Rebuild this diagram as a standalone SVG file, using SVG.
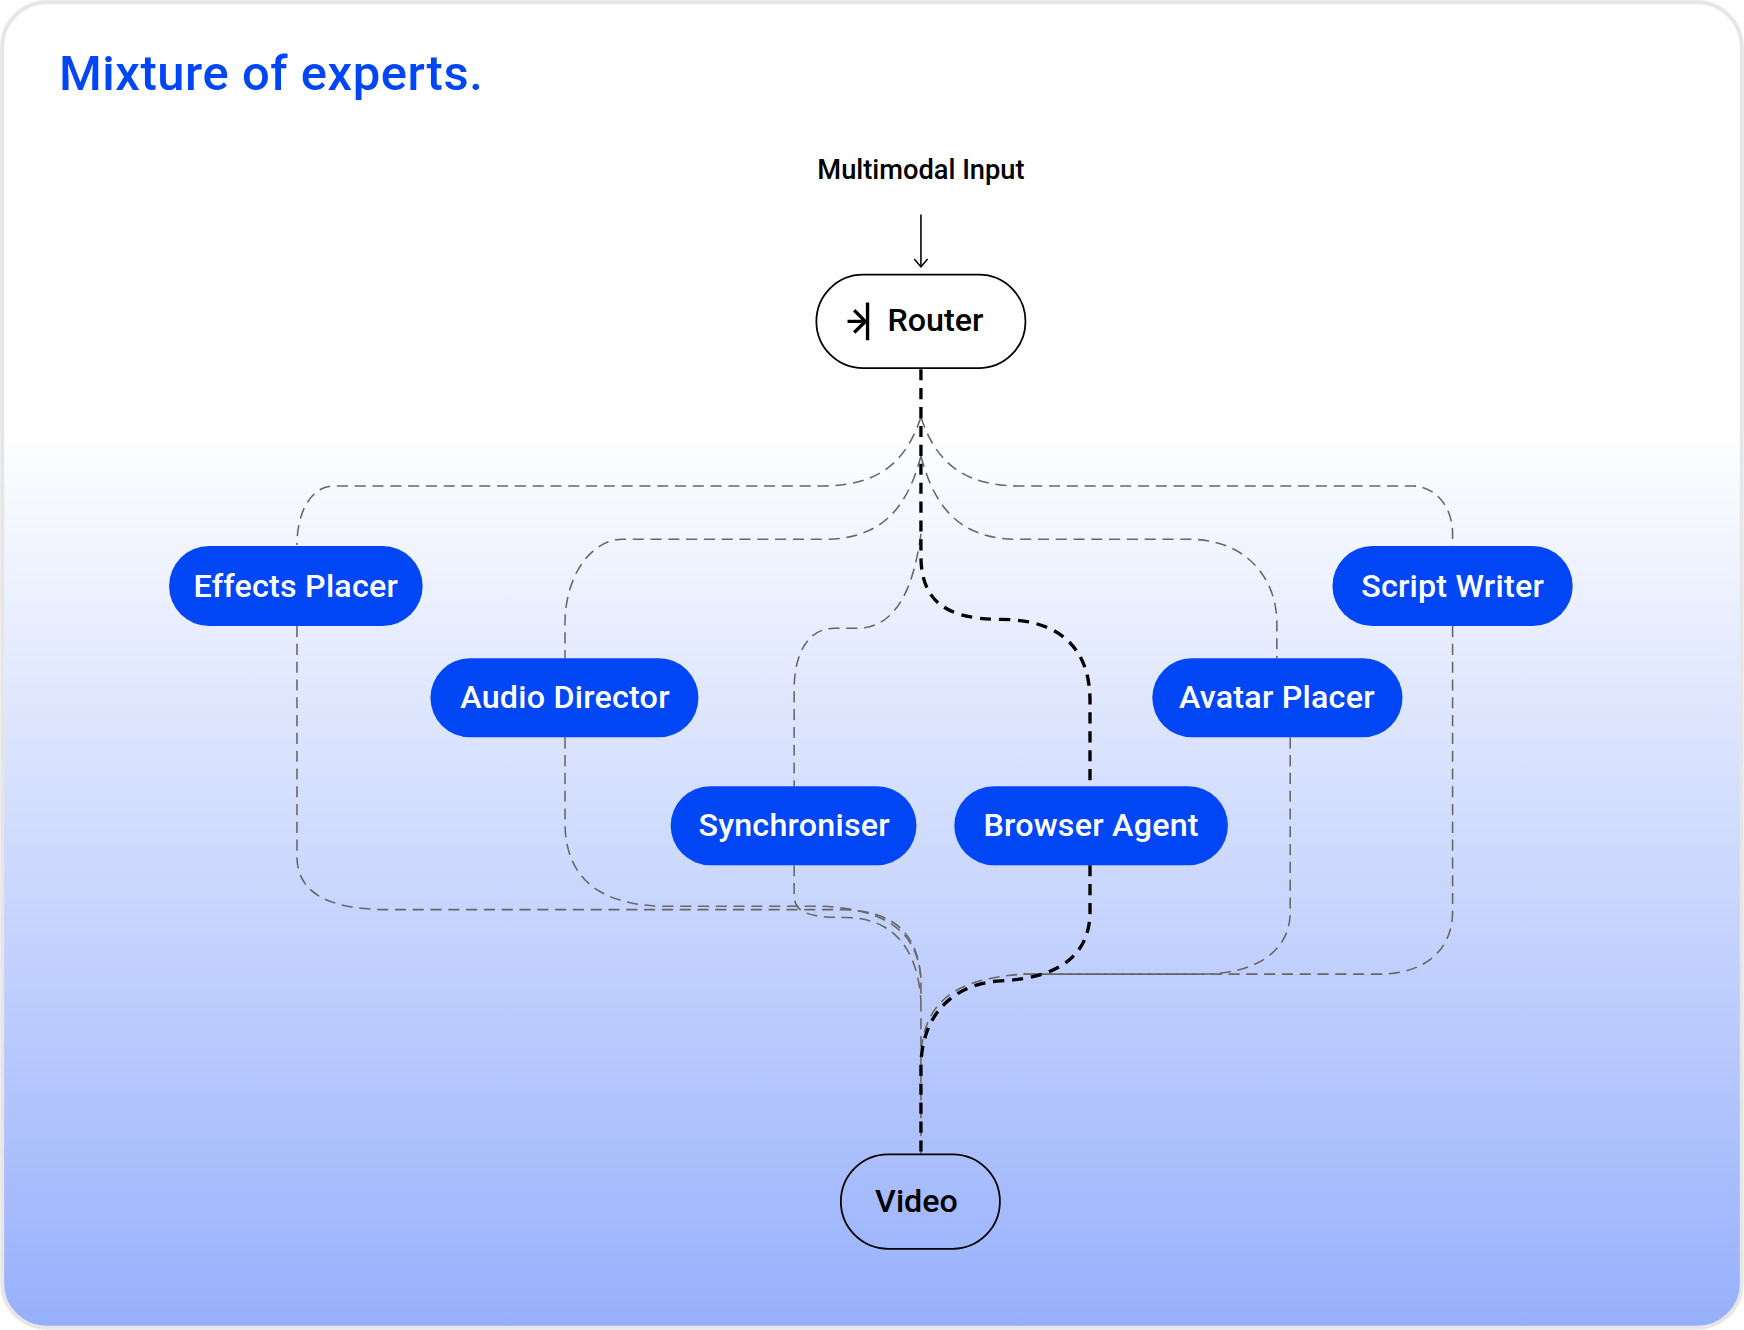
<svg xmlns="http://www.w3.org/2000/svg" width="1744" height="1330" viewBox="0 0 1744 1330">
<defs>
<linearGradient id="bg" x1="0" y1="0" x2="0" y2="1">
<stop offset="0" stop-color="#ffffff"/>
<stop offset="0.32" stop-color="#ffffff"/>
<stop offset="1" stop-color="#97b0fc"/>
</linearGradient>
</defs>
<style>
.g{fill:none;stroke:#666;stroke-width:1.4;stroke-dasharray:10 6}
.k{fill:none;stroke:#000;stroke-width:3;stroke-dasharray:10 7}
.bn{fill:#0046f5}
.bt{fill:#fff;font-family:Roboto,"Noto Sans",sans-serif;font-weight:500;font-size:29px;text-anchor:middle;letter-spacing:0.2px}
.wn{fill:#fff;stroke:#000;stroke-width:1.6}
.wt{fill:#000;font-family:Roboto,"Noto Sans",sans-serif;font-weight:500;font-size:29px;text-anchor:middle}
</style>
<g transform="scale(1.11224,1.11204)">
<rect x="2" y="2" width="1564" height="1192" rx="40" fill="url(#bg)" stroke="#e6e6e6" stroke-width="3.5"/>
<text x="53" y="81" font-family="Roboto,'Noto Sans',sans-serif" font-weight="500" font-size="44" fill="#0046f5" letter-spacing="0.5">Mixture of experts.</text>
<g id="connectors">
<line x1="828" y1="193" x2="828" y2="240" stroke="#000" stroke-width="1.4"/>
<polyline points="822,233 828,240 834,233" fill="none" stroke="#000" stroke-width="1.4"/>
<path class="g" d="M828,375 C815,415 790,437 740,437 H300 C280,437 267,460 267,490"/>
<path class="g" d="M267,563 V770 C267,800 290,818 350,818 H760 C805,820 825,840 828,880 V1038"/>
<path class="g" d="M828,410 C815,460 790,485 740,485 H560 C530,485 508,520 508,560 V592"/>
<path class="g" d="M508,663 V740 C508,790 540,815 600,815 H740 C800,818 825,840 828,880"/>
<path class="g" d="M828,480 C820,540 800,565 770,565 H750 C725,565 714,590 714,620 V707"/>
<path class="g" d="M714,778 V805 C714,822 730,825 760,825 C800,825 825,850 828,900"/>
<path class="g" d="M828,410 C841,460 866,485 916,485 H1070 C1120,485 1148,520 1148,560 V592"/>
<path class="g" d="M1160,663 V820 C1160,855 1130,876 1080,876 H920 C860,880 830,900 828,950"/>
<path class="g" d="M828,375 C841,415 866,437 916,437 H1270 C1290,437 1306,455 1306,480 V491"/>
<path class="g" d="M1306,563 V820 C1306,855 1280,876 1240,876 H920"/>
<path class="k" d="M828,332 V500 C828,540 850,557 900,557 C960,557 980,590 980,630 V707"/>
<path class="k" d="M980,778 V820 C980,860 950,880 900,882 C860,884 828,910 828,960 V1038"/>
</g>
<text x="828" y="161" class="wt" style="font-size:24.5px">Multimodal Input</text>
<g id="router">
<rect class="wn" x="734" y="247" width="188" height="84" rx="42"/>
<path d="M780,272 V306 M762,289 H778 M768,279 L778,289 L768,299" fill="none" stroke="#000" stroke-width="3"/>
<text x="841" y="298" class="wt">Router</text>
</g>
<g id="effects"><rect class="bn" x="152" y="491" width="228" height="72" rx="36"/><text class="bt" x="266" y="537">Effects Placer</text></g>
<g id="audio"><rect class="bn" x="387" y="592" width="241" height="71" rx="35.5"/><text class="bt" x="508" y="637">Audio Director</text></g>
<g id="sync"><rect class="bn" x="603" y="707" width="221" height="71" rx="35.5"/><text class="bt" x="714" y="752">Synchroniser</text></g>
<g id="browser"><rect class="bn" x="858" y="707" width="246" height="71" rx="35.5"/><text class="bt" x="981" y="752">Browser Agent</text></g>
<g id="avatar"><rect class="bn" x="1036" y="592" width="225" height="71" rx="35.5"/><text class="bt" x="1148" y="637">Avatar Placer</text></g>
<g id="script"><rect class="bn" x="1198" y="491" width="216" height="72" rx="36"/><text class="bt" x="1306" y="537">Script Writer</text></g>
<g id="video"><rect class="wn" style="fill:none" x="756" y="1038" width="143" height="85" rx="42.5"/><text class="wt" x="824" y="1090">Video</text></g>
</g>
</svg>
